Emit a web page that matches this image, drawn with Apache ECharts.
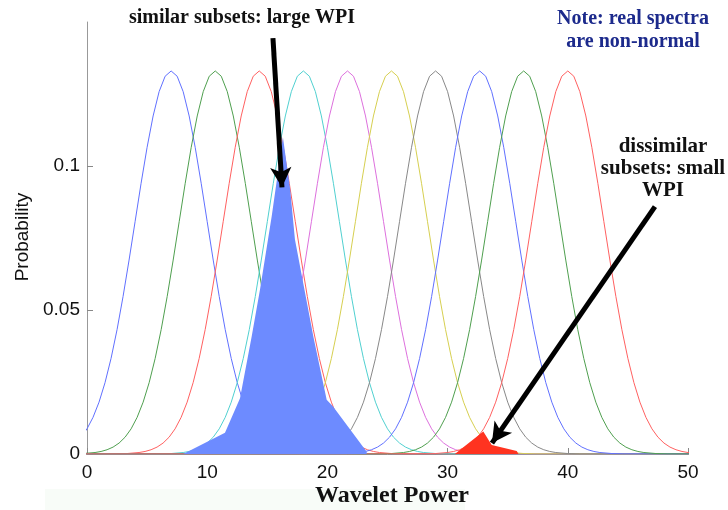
<!DOCTYPE html>
<html>
<head>
<meta charset="utf-8">
<script src="https://cdn.jsdelivr.net/npm/echarts@6/dist/echarts.min.js"></script>
<style>html,body{margin:0;padding:0;background:#fff}#c{width:728px;height:510px}</style>
</head>
<body>
<div id="c"></div>
<script>
// Shared bell profile (offset from curve centre -> probability)
var profileOffsets = [-45, -12, -11, -10, -9.5, -9, -8.5, -8, -7.5, -7, -6.5, -6, -5.5, -5, -4.5, -4, -3.5, -3, -2.5, -2, -1.5, -1, -0.5, 0,
                      0.5, 1, 1.5, 2, 2.5, 3, 3.5, 4, 4.5, 5, 5.5, 6, 6.5, 7, 7.5, 8, 8.5, 9, 9.5, 10, 11, 12, 45];
var profileValues  = [0, 0.00004, 0.00016, 0.00051, 0.00088, 0.00148, 0.0024, 0.0038, 0.00584, 0.00874, 0.01272, 0.018, 0.02477, 0.03317,
                      0.04318, 0.05468, 0.06734, 0.08067, 0.09399, 0.10649, 0.11737, 0.12582, 0.13117, 0.133,
                      0.13117, 0.12582, 0.11737, 0.10649, 0.09399, 0.08067, 0.06734, 0.05468, 0.04318, 0.03317, 0.02477, 0.018,
                      0.01272, 0.00874, 0.00584, 0.0038, 0.0024, 0.00148, 0.00088, 0.00051, 0.00016, 0.00004, 0];
// Centres of the ten subset spectra
var curveCenters = [7, 10.67, 14.33, 18, 21.67, 25.33, 29, 32.67, 36.33, 40];
var curveColors  = ['#6070ff', '#4f9f4f', '#ff6060', '#50d0d0', '#dd70dd', '#d6cf50', '#888888', '#6070ff', '#4f9f4f', '#ff6060'];

// Overlap areas (x, probability)
var similarOverlap = [[8.0, 0], [11.48, 0.0074], [12.73, 0.0194], [13.7, 0.0408], [14.39, 0.057], [15.37, 0.0826],
                      [16.3, 0.110], [16.9, 0.092], [17.3, 0.0745], [18.83, 0.0408], [19.94, 0.0188], [20.47, 0.0165], [23.27, 0.0008]];
var dissimilarOverlap = [[30.6, 0], [32.97, 0.0078], [33.67, 0.0031], [35.75, 0.001], [35.9, 0]];

// Annotation arrows (data coordinates: from -> to)
var arrowSimilar    = [[15.47, 0.1444], [16.22, 0.0926]];
var arrowDissimilar = [[47.25, 0.0859], [33.69, 0.0038]];

var xTicks = [0, 10, 20, 30, 40, 50];
var yTicks = [0, 0.05, 0.1];

var chart = echarts.init(document.getElementById('c'), null, {renderer: 'canvas'});

var series = [];
series.push({
  type: 'line', data: similarOverlap, symbol: 'none', silent: true, z: 3,
  lineStyle: {width: 0}, areaStyle: {color: '#6d8bff', opacity: 1}
});
series.push({
  type: 'line', data: dissimilarOverlap, symbol: 'none', silent: true, z: 3,
  lineStyle: {width: 0}, areaStyle: {color: '#ff3320', opacity: 1}
});
curveCenters.forEach(function (c, i) {
  var pts = profileOffsets.map(function (o, k) { return [c + o, profileValues[k]]; });
  series.push({
    type: 'line', data: pts, symbol: 'none', smooth: false, silent: true, z: 2,
    lineStyle: {color: curveColors[i], width: 1}
  });
});
series.push({
  type: 'line', data: [], silent: true, z: 10,
  markLine: {
    silent: true, symbol: ['none', 'arrow'], symbolSize: [16, 20], animation: false,
    label: {show: false},
    lineStyle: {color: '#000', width: 5, type: 'solid'},
    data: [
      [{coord: arrowSimilar[0]}, {coord: arrowSimilar[1]}],
      [{coord: arrowDissimilar[0]}, {coord: arrowDissimilar[1]}]
    ]
  }
});

var serif = '"Liberation Serif", "DejaVu Serif", serif';
var sans = '"Liberation Sans", Arial, sans-serif';

chart.setOption({
  animation: false,
  grid: {left: 87, right: 40, top: 22, bottom: 56, containLabel: false},
  xAxis: {
    type: 'value', min: 0, max: 50, interval: 10,
    axisLine: {show: true, lineStyle: {color: '#999', width: 1}},
    axisTick: {show: true, inside: true, length: 6, lineStyle: {color: '#888'}},
    axisLabel: {color: '#111', fontFamily: sans, fontSize: 19, margin: 9, customValues: xTicks},
    splitLine: {show: false}
  },
  yAxis: {
    type: 'value', min: 0, max: 0.15, interval: 0.05,
    axisLine: {show: true, lineStyle: {color: '#999', width: 1}},
    axisTick: {show: true, inside: true, length: 6, lineStyle: {color: '#888'}, customValues: yTicks},
    axisLabel: {color: '#111', fontFamily: sans, fontSize: 19, margin: 7, customValues: yTicks,
      formatter: function (v) { return String(+v.toFixed(2)); }},
    splitLine: {show: false}
  },
  graphic: [
    {type: 'rect', shape: {x: 45, y: 489, width: 420, height: 21}, style: {fill: '#f8fcf8'}, z: -1, silent: true},
    {type: 'text', x: 392, y: 496, style: {text: 'Wavelet Power', font: 'bold 24px ' + serif, fill: '#111', textAlign: 'center', textVerticalAlign: 'middle'}},
    {type: 'text', x: 23, y: 237, rotation: Math.PI / 2, style: {text: 'Probability', font: '19px ' + sans, fill: '#111', textAlign: 'center', textVerticalAlign: 'middle'}},
    {type: 'text', x: 242, y: 18, style: {text: 'similar subsets: large WPI', font: 'bold 20px ' + serif, fill: '#111', textAlign: 'center', textVerticalAlign: 'middle'}},
    {type: 'text', x: 633, y: 30, style: {text: 'Note: real spectra\nare non-normal', font: 'bold 20px ' + serif, lineHeight: 23, fill: '#1c2a8c', textAlign: 'center', textVerticalAlign: 'middle'}},
    {type: 'text', x: 663, y: 169, style: {text: 'dissimilar\nsubsets: small\nWPI', font: 'bold 21px ' + serif, lineHeight: 22, fill: '#111', textAlign: 'center', textVerticalAlign: 'middle'}}
  ],
  series: series
});
</script>
</body>
</html>
